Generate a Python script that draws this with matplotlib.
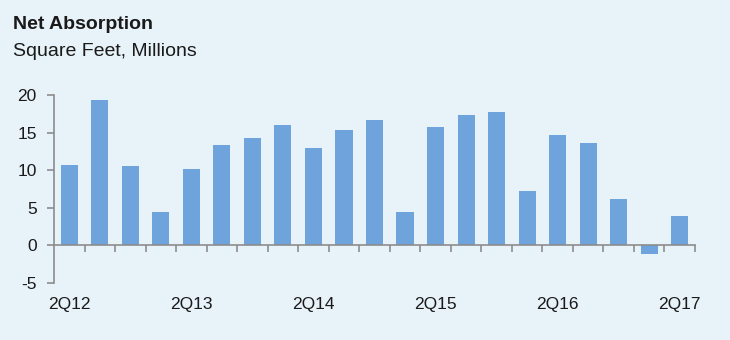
import matplotlib.pyplot as plt
import numpy as np

plt.rcParams['font.family'] = ['Liberation Sans', 'DejaVu Sans']
plt.rcParams['axes.unicode_minus'] = False

quarters = ['2Q12', '3Q12', '4Q12', '1Q13', '2Q13', '3Q13', '4Q13', '1Q14', '2Q14', '3Q14', '4Q14',
            '1Q15', '2Q15', '3Q15', '4Q15', '1Q16', '2Q16', '3Q16', '4Q16', '1Q17', '2Q17']
absorption = [10.7, 19.3, 10.6, 4.4, 10.2, 13.4, 14.3, 16.0, 12.9, 15.3, 16.7,
              4.4, 15.8, 17.3, 17.8, 7.2, 14.7, 13.6, 6.2, -1.2, 3.9]
shown_labels = ['2Q12', '2Q13', '2Q14', '2Q15', '2Q16', '2Q17']

bg = '#E8F2F9'
bar_color = '#6FA3DB'
axis_color = '#8C8C8C'
text_color = '#1a1a1a'

fig = plt.figure(figsize=(7.3, 3.4), dpi=100, facecolor=bg)
ax = fig.add_axes([54/730, 57/340, (695-54)/730, (283-95)/340])
ax.set_facecolor(bg)

x = np.arange(len(quarters))
ax.bar(x, absorption, width=0.56, color=bar_color, zorder=2)

ax.set_xlim(-0.5, len(quarters) - 0.5)
ax.set_ylim(-5, 20)
ax.set_yticks([-5, 0, 5, 10, 15, 20])

for s in ['top', 'right']:
    ax.spines[s].set_visible(False)
ax.spines['left'].set_color(axis_color)
ax.spines['bottom'].set_color(axis_color)
ax.spines['left'].set_linewidth(1.2)
ax.spines['bottom'].set_linewidth(1.2)
ax.spines['bottom'].set_position(('data', 0))
ax.spines['bottom'].set_zorder(3)

# ticks sit between the bars
ax.set_xticks(np.arange(len(quarters)) + 0.5)
ax.set_xticklabels([])
ax.tick_params(axis='x', direction='out', length=5, width=1.2, color=axis_color)
ax.tick_params(axis='y', direction='out', length=5, width=1.2, color=axis_color,
               labelsize=12.5, labelcolor=text_color, pad=7.5)

for i, q in enumerate(quarters):
    if q in shown_labels:
        ax.text(i, -7.8, q, ha='center', va='center', fontsize=12.5, color=text_color, clip_on=False)

fig.text(13/730, 1 - 29/340, 'Net Absorption', fontsize=14, fontweight='bold',
         color=text_color, va='baseline', ha='left')
fig.text(13/730, 1 - 56/340, 'Square Feet, Millions', fontsize=14,
         color=text_color, va='baseline', ha='left')

fig.savefig('out.png', dpi=100, facecolor=bg)
